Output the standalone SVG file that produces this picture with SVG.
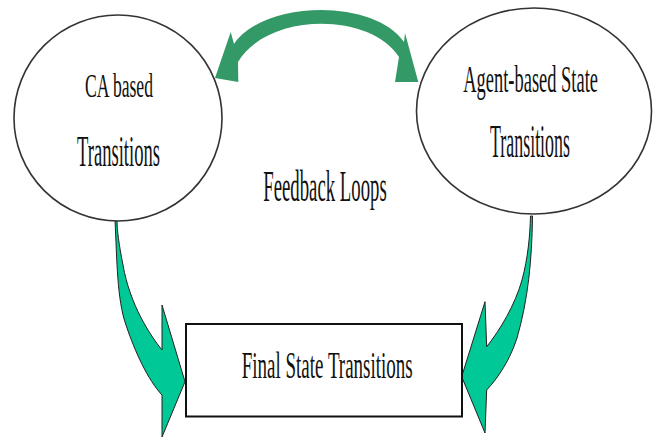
<svg xmlns="http://www.w3.org/2000/svg" width="654" height="438" viewBox="0 0 654 438">
<style>
.t{font-family:"Liberation Serif","Times New Roman",serif;fill:#111}
.node{fill:#fff;stroke:#333;stroke-width:1.6}
.box{fill:#fff;stroke:#111;stroke-width:2}
.bend{fill:#00c896;stroke:#222;stroke-width:1}
.fb{fill:#339966}
</style>
<rect width="654" height="438" fill="#fff"/>
<g id="connectors">
<path class="fb" d="M215,78 L230.7,32 L234,44 C265,-1 375,-1 404,42 L405,33 L418.3,82 L395,82 L399,57 C370,12 268,12 238,62 L238.3,82 Z"/>
<path class="bend" d="M115,220 C117,260 117,300 126,325 C135,352 148,380 162,395 L162,437 L185,381.7 L162,305 L162,350 C150,335 130,305 123,265 C119,245 117,230 117,220 Z"/>
<path class="bend" d="M532.5,216 C532,260 528,300 517,338 C510,360 498,378 486.7,390 L485,433 L461.7,376.7 L485,301.7 L486.7,346.7 C500,330 515,305 522,280 C528,258 530,235 530.5,216 Z"/>
</g>
<g id="ca">
<ellipse class="node" cx="118" cy="118" rx="104" ry="103"/>
<text class="t" transform="translate(85,96.7) scale(1,1.88)" font-size="17.4" textLength="68" lengthAdjust="spacingAndGlyphs">CA based</text>
<text class="t" transform="translate(77,166) scale(1,2.38)" font-size="18.4" textLength="83" lengthAdjust="spacingAndGlyphs">Transitions</text>
</g>
<g id="agent">
<ellipse class="node" cx="534" cy="111" rx="117.5" ry="103"/>
<text class="t" transform="translate(463.3,92.3) scale(1,2.1)" font-size="18.4" textLength="134.7" lengthAdjust="spacingAndGlyphs">Agent-based State</text>
<text class="t" transform="translate(490,156.7) scale(1,2.55)" font-size="17.8" textLength="80" lengthAdjust="spacingAndGlyphs">Transitions</text>
</g>
<g id="feedback">
<text class="t" transform="translate(263.3,201) scale(1,2.34)" font-size="18.75" textLength="123.4" lengthAdjust="spacingAndGlyphs">Feedback Loops</text>
</g>
<g id="final">
<rect class="box" x="186" y="324" width="276" height="92.5"/>
<text class="t" transform="translate(241.7,378.3) scale(1,2)" font-size="18.9" textLength="171" lengthAdjust="spacingAndGlyphs">Final State Transitions</text>
</g>
</svg>
